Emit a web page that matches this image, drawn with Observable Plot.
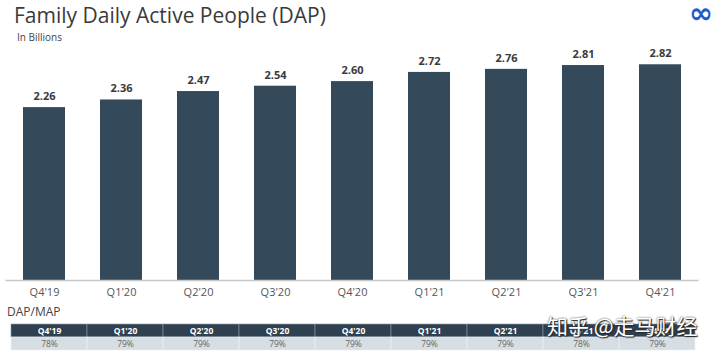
<!DOCTYPE html>
<html>
<head>
<meta charset="utf-8">
<script src="https://cdn.jsdelivr.net/npm/d3@7"></script>
<script src="https://cdn.jsdelivr.net/npm/@observablehq/plot@0.6"></script>
<style>
  html, body { margin: 0; padding: 0; background: #fff; width: 720px; height: 355px; overflow: hidden; position: relative; font-family: "Open Sans", sans-serif; }
  .abs { position: absolute; white-space: nowrap; }
  #title { left: 14px; top: 1px; font-size: 21px; color: #3a3a3a; line-height: 28px; }
  #subtitle { left: 17px; top: 30px; font-size: 10px; color: #444; line-height: 14px; }
  #logo { left: 689px; top: 0px; font-size: 29px; color: #1c5bd0; font-weight: bold; line-height: 26px; font-family: "DejaVu Sans", sans-serif; }
  #chart { left: 0; top: 45px; }
  #tlabel { left: 7px; top: 304px; font-size: 12px; color: #444; line-height: 16px; }
  #table { left: 0; top: 322px; }
  #wm { left: 547px; top: 312px; font-size: 21px; color: #fff; font-family: "Noto Sans CJK SC", sans-serif; line-height: 26px; text-shadow: 0 0 2px #333, 1px 1px 1px #222; }
</style>
</head>
<body>
<script>
const quarters = ["Q4'19","Q1'20","Q2'20","Q3'20","Q4'20","Q1'21","Q2'21","Q3'21","Q4'21"];
const dap = [2.26, 2.36, 2.47, 2.54, 2.60, 2.72, 2.76, 2.81, 2.82];
const dapLabels = ["2.26","2.36","2.47","2.54","2.60","2.72","2.76","2.81","2.82"];
const dapMap = ["78%","79%","79%","79%","79%","79%","79%","78%","79%"];

const bars = quarters.map((q, i) => ({q, v: dap[i], label: dapLabels[i]}));
const rows = quarters.map((q, i) => ({q, pct: dapMap[i]}));

const add = (html, id) => {
  const d = document.createElement("div");
  d.className = "abs"; d.id = id;
  if (typeof html === "string") d.textContent = html; else d.appendChild(html);
  document.body.appendChild(d);
};

add("Family Daily Active People (DAP)", "title");
add("In Billions", "subtitle");
add("\u221E", "logo");

const chart = Plot.plot({
  width: 720,
  height: 255,
  marginTop: 5.5,
  marginBottom: 20,
  marginLeft: 5.5,
  marginRight: 21.5,
  style: {fontFamily: "Open Sans, sans-serif", background: "transparent"},
  x: {domain: quarters, paddingInner: 0.455, paddingOuter: 0.2275, label: null},
  y: {domain: [0, 3], axis: null},
  marks: [
    Plot.barY(bars, {x: "q", y: "v", fill: "#34495a"}),
    Plot.ruleY([0], {stroke: "#c8c8c8", strokeWidth: 1.5}),
    Plot.text(bars, {x: "q", y: "v", text: "label", dy: -11, fontSize: 11, fontWeight: "bold", fill: "#3a3a3a"}),
    Plot.axisX({tickSize: 0, tickPadding: 8, fontSize: 11, fill: "#555", label: null})
  ]
});
add(chart, "chart");

add("DAP/MAP", "tlabel");

const table = Plot.plot({
  width: 720,
  height: 31,
  marginTop: 1.5,
  marginBottom: 2,
  marginLeft: 6.5,
  marginRight: 21.5,
  style: {fontFamily: "Open Sans, sans-serif", background: "transparent"},
  x: {domain: quarters, padding: 0, axis: null},
  y: {domain: ["head", "val"], padding: 0, axis: null},
  marks: [
    Plot.cell(rows, {x: "q", y: () => "head", fill: "#2f4050", stroke: "#8a99a6", strokeWidth: 0.6}),
    Plot.cell(rows, {x: "q", y: () => "val", fill: "#d6dee4", stroke: "#eef2f5", strokeWidth: 0.6}),
    Plot.text(rows, {x: "q", y: () => "head", text: "q", fill: "#fff", fontSize: 8.5, fontWeight: "bold"}),
    Plot.text(rows, {x: "q", y: () => "val", text: "pct", fill: "#666", fontSize: 8.5})
  ]
});
add(table, "table");

add("知乎 @走马财经", "wm");
</script>
</body>
</html>
